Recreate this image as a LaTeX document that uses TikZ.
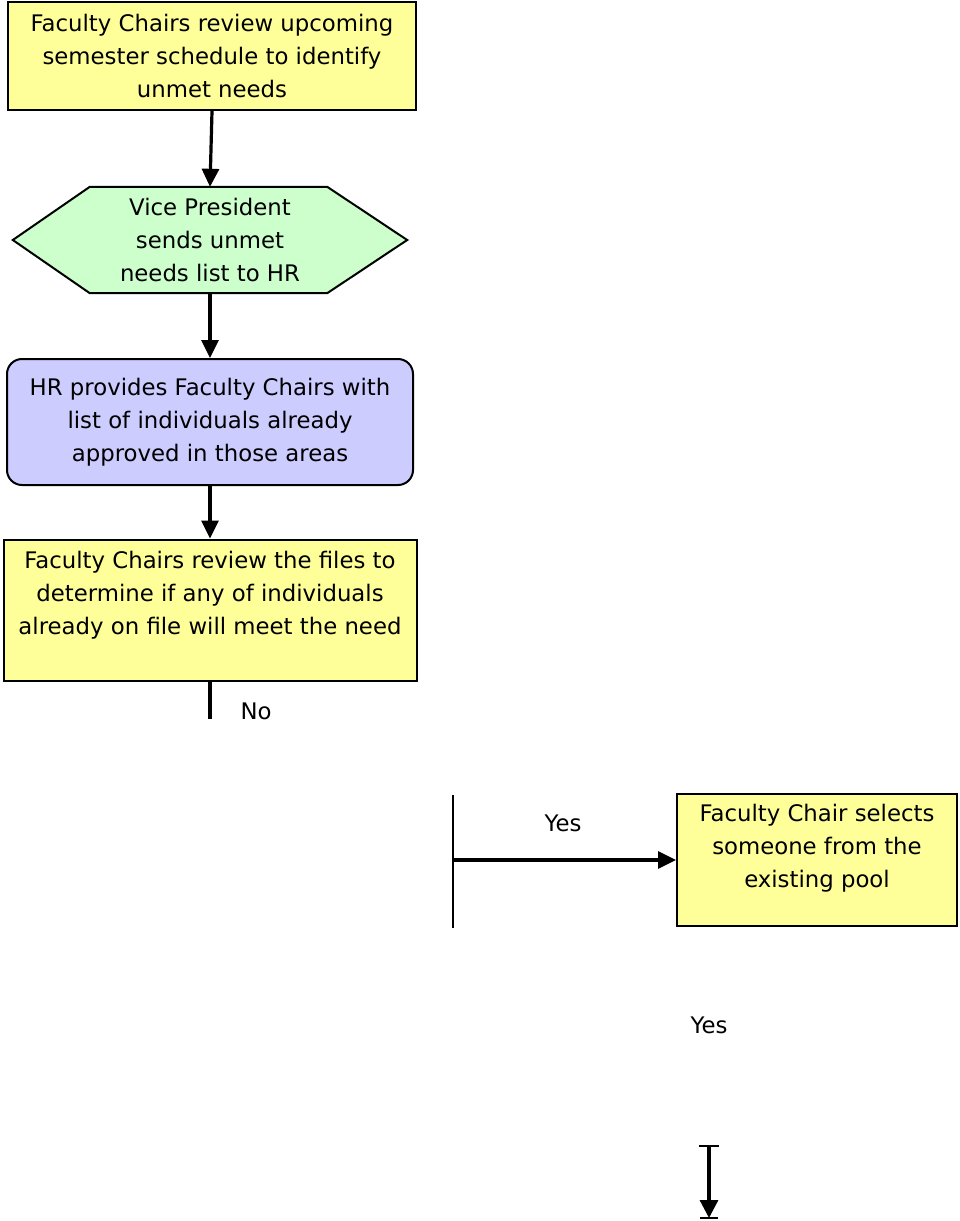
\documentclass[tikz,border=0pt]{standalone}
\usepackage{fontspec}
\setmainfont{DejaVu Sans}
\usetikzlibrary{arrows.meta}
\definecolor{boxyellow}{HTML}{FFFF99}
\definecolor{boxgreen}{HTML}{CCFFCC}
\definecolor{boxblue}{HTML}{CCCCFF}
\tikzset{
  txt/.style={font=\fontsize{22.8}{33}\selectfont, align=center, inner sep=0pt},
  ybox/.style={draw=black, line width=2pt, fill=boxyellow, inner sep=0pt},
  conn/.style={line width=3.2pt, -{Triangle[width=17pt,length=18pt]}},
  plain/.style={line width=3.2pt},
  thin/.style={line width=1.3pt},
}
\begin{document}
\begin{tikzpicture}[x=1pt,y=-1pt]
\useasboundingbox (0,0) rectangle (959,1221);
\fill[white] (0,0) rectangle (959,1221);

% Box 1
\node[ybox, txt, minimum width=408pt, minimum height=108pt] (b1) at (212,56)
  {Faculty Chairs review upcoming\\semester schedule to identify\\unmet needs};

% Hexagon
\node[txt, minimum width=394pt, minimum height=106pt] (hex) at (210,240) {};
\fill[boxgreen] ([xshift=77pt]hex.north west) -- ([xshift=-80pt]hex.north east) -- (hex.east)
  -- ([xshift=-80pt]hex.south east) -- ([xshift=77pt]hex.south west) -- (hex.west) -- cycle;
\draw[line width=2pt] ([xshift=77pt]hex.north west) -- ([xshift=-80pt]hex.north east) -- (hex.east)
  -- ([xshift=-80pt]hex.south east) -- ([xshift=77pt]hex.south west) -- (hex.west) -- cycle;
\node[txt] (hext) at (hex.center) {Vice President\\sends unmet\\needs list to HR};

% Box 3
\node[draw=black, line width=2pt, fill=boxblue, rounded corners=15pt, txt,
  minimum width=406pt, minimum height=126pt] (b3) at (210,422)
  {HR provides Faculty Chairs with\\list of individuals already\\approved in those areas};

% Box 4
\node[ybox, minimum width=413pt, minimum height=141pt] (b4) at (210,610) {};
\node[txt] (b4t) at (210,595)
  {Faculty Chairs review the files to\\determine if any of individuals\\already on file will meet the need};

% Box 5
\node[ybox, minimum width=280pt, minimum height=132pt] (b5) at (817,860) {};
\node[txt] (b5t) at (817,848)
  {Faculty Chair selects\\someone from the\\existing pool};

% connectors
\draw[conn] (b1.south) -- (hex.north);
\draw[conn] (hex.south) -- (b3.north);
\draw[conn] (b3.south) -- (b4.north);
\coordinate (noend) at (210,719);
\draw[plain] (b4.south) -- (noend);
\node[txt] (nolab) at (256,711) {No};

\coordinate (vtop) at (453,795);
\coordinate (vbot) at (453,928);
\coordinate (vmid) at (453,860);
\draw[thin] (vtop) -- (vbot);
\draw[conn] (vmid) -- (b5.west);
\node[txt] (yes1) at (563,823) {Yes};

\node[txt] (yes2) at (709,1025) {Yes};
\coordinate (atop) at (709,1145);
\coordinate (abot) at (709,1218);
\draw[line width=3.2pt, {Bar[width=20pt,line width=2.4pt]}-{Triangle[width=18pt,length=18pt]}] (atop) -- (abot);
\coordinate (barl) at (700,1218);
\coordinate (barr) at (718,1218);
\draw[line width=2.4pt] (barl) -- (barr);
\end{tikzpicture}
\end{document}
